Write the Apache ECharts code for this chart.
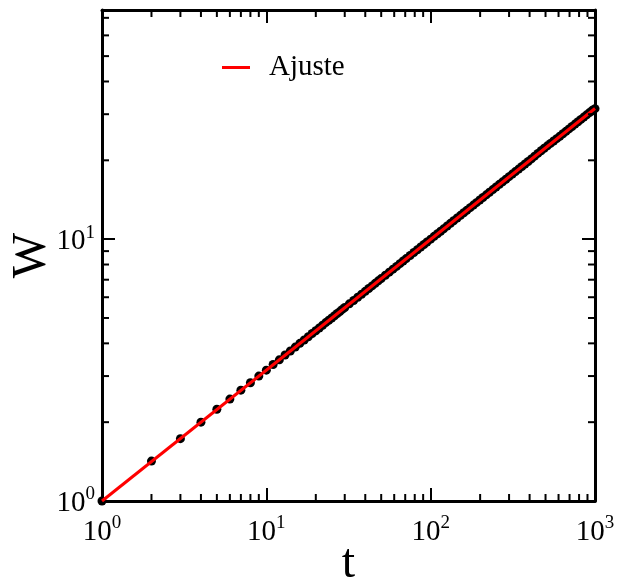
<!DOCTYPE html>
<html>
<head>
<meta charset="utf-8">
<script src="https://cdn.jsdelivr.net/npm/echarts@6/dist/echarts.min.js"></script>
<style>html,body{margin:0;padding:0;background:#fff;}#c{width:617px;height:581px;}</style>
</head>
<body>
<div id="c"></div>
<script>
// Measured data (t, W)
const tData = [1,2,3,4,5,6,7,8,9,10,11,12,13,14,15,16,17,18,19,20,21,22,23,24,25,26,27,28,29,30,
  32,34,36,38,40,42,44,46,48,50,53,56,59,62,65,68,71,75,79,83,87,91,95,100,105,110,115,120,126,132,138,145,152,159,166,174,182,190,199,208,218,228,239,250,262,274,287,300,314,328,343,359,375,392,410,429,449,470,491,513,536,560,585,611,638,666,695,725,756,788,821,855,890,926,963,1000];
const wData = [1.00,1.42,1.73,2.00,2.24,2.45,2.65,2.83,3.00,3.16,3.32,3.46,3.61,3.74,3.87,4.00,4.12,4.24,4.36,4.47,4.58,4.69,4.80,4.90,5.00,5.10,5.20,5.29,5.39,5.48,
  5.66,5.83,6.00,6.16,6.32,6.48,6.63,6.78,6.93,7.07,7.28,7.48,7.68,7.87,8.06,8.25,8.43,8.66,8.89,9.11,9.33,9.54,9.75,10.0,10.25,10.49,10.72,10.95,11.22,11.49,11.75,12.04,12.33,12.61,12.88,13.19,13.49,13.78,14.11,14.42,14.76,15.10,15.46,15.81,16.19,16.55,16.94,17.32,17.72,18.11,18.52,18.95,19.36,19.80,20.25,20.75,21.25,21.75,22.24,22.72,23.20,23.70,24.20,24.72,25.26,25.81,26.36,26.93,27.50,28.07,28.65,29.24,29.83,30.43,31.03,31.50];
// Fit line "Ajuste"
const fitT = [1, 1000];
const fitW = [1.0, 31.55];
// Axis ranges and minor tick values
const xRange = [1, 1000];
const yRange = [1, 75];
const xMinor = [2,3,4,5,6,7,8,9,20,30,40,50,60,70,80,90,200,300,400,500,600,700,800,900];
const yMinor = [2,3,4,5,6,7,8,9,20,30,40,50,60,70];

const FONT = 'Liberation Serif';
const chart = echarts.init(document.getElementById('c'), null, {renderer: 'canvas'});

function powLabel(v) {
  const e = Math.log10(v);
  if (Math.abs(e - Math.round(e)) > 1e-6) return '';
  return '{b|10}{s|' + Math.round(e) + '}';
}
const rich = {
  b: {fontFamily: FONT, fontSize: 29, color: '#000', lineHeight: 34, verticalAlign: 'bottom'},
  s: {fontFamily: FONT, fontSize: 19, color: '#000', lineHeight: 34, verticalAlign: 'bottom', padding: [0, 0, 14, 0]}
};
const axLine = {show: true, onZero: false, lineStyle: {color: '#000', width: 3}};
const axTick = {show: true, inside: true, length: 13, lineStyle: {color: '#000', width: 2}};

const scatterData = tData.map((t, i) => [t, wData[i]]);
const fitData = fitT.map((t, i) => [t, fitW[i]]);

function minorTicks(isX) {
  return function (params, api) {
    const cs = params.coordSys;
    const v = api.value(isX ? 0 : 1);
    const p = api.coord(isX ? [v, 1] : [1, v]);
    const L = 7;
    const style = {stroke: '#000', lineWidth: 2};
    if (isX) {
      return {type: 'group', children: [
        {type: 'line', shape: {x1: p[0], y1: cs.y + cs.height, x2: p[0], y2: cs.y + cs.height - L}, style},
        {type: 'line', shape: {x1: p[0], y1: cs.y, x2: p[0], y2: cs.y + L}, style}
      ]};
    }
    return {type: 'group', children: [
      {type: 'line', shape: {x1: cs.x, y1: p[1], x2: cs.x + L, y2: p[1]}, style},
      {type: 'line', shape: {x1: cs.x + cs.width, y1: p[1], x2: cs.x + cs.width - L, y2: p[1]}, style}
    ]};
  };
}

chart.setOption({
  animation: false,
  backgroundColor: '#fff',
  grid: {left: 102, right: 22, top: 10, bottom: 80, containLabel: false, outerBoundsMode: 'none'},
  legend: {
    data: ['Ajuste'], left: 217, top: 48, icon: 'rect', itemWidth: 28, itemHeight: 3,
    textStyle: {fontFamily: FONT, fontSize: 29, color: '#000', padding: [0, 0, 0, 14]}
  },
  xAxis: [
    {type: 'log', logBase: 10, min: xRange[0], max: xRange[1], position: 'bottom',
     axisLine: axLine, axisTick: axTick, splitLine: {show: false},
     axisLabel: {formatter: powLabel, rich: rich, margin: 12},
     name: 't', nameLocation: 'middle', nameGap: 39, nameMoveOverlap: false,
     nameTextStyle: {fontFamily: FONT, fontSize: 48, color: '#000'}},
    {type: 'log', logBase: 10, min: xRange[0], max: xRange[1], position: 'top',
     axisLine: axLine, axisTick: axTick, splitLine: {show: false}, axisLabel: {show: false}}
  ],
  yAxis: [
    {type: 'log', logBase: 10, min: yRange[0], max: yRange[1], position: 'left',
     axisLine: axLine, axisTick: axTick, splitLine: {show: false},
     axisLabel: {formatter: powLabel, rich: rich, margin: 7},
     name: 'W', nameLocation: 'middle', nameGap: 46, nameRotate: 90, nameMoveOverlap: false,
     nameTextStyle: {fontFamily: FONT, fontSize: 48, color: '#000'}},
    {type: 'log', logBase: 10, min: yRange[0], max: yRange[1], position: 'right',
     axisLine: axLine, axisTick: axTick, splitLine: {show: false}, axisLabel: {show: false}}
  ],
  series: [
    {name: 'Dados', type: 'scatter', data: scatterData, symbol: 'circle', symbolSize: 9,
     itemStyle: {color: '#000', opacity: 1}, z: 3, clip: false},
    {name: 'Ajuste', type: 'line', data: fitData, showSymbol: false, symbol: 'none',
     lineStyle: {color: '#ff0000', width: 3}, itemStyle: {color: '#ff0000'}, z: 4, clip: false},
    {name: 'minorX', type: 'custom', data: xMinor.map(v => [v, 1]), renderItem: minorTicks(true), silent: true, z: 5, clip: false},
    {name: 'minorY', type: 'custom', data: yMinor.map(v => [1, v]), renderItem: minorTicks(false), silent: true, z: 5, clip: false}
  ]
});
</script>
</body>
</html>
